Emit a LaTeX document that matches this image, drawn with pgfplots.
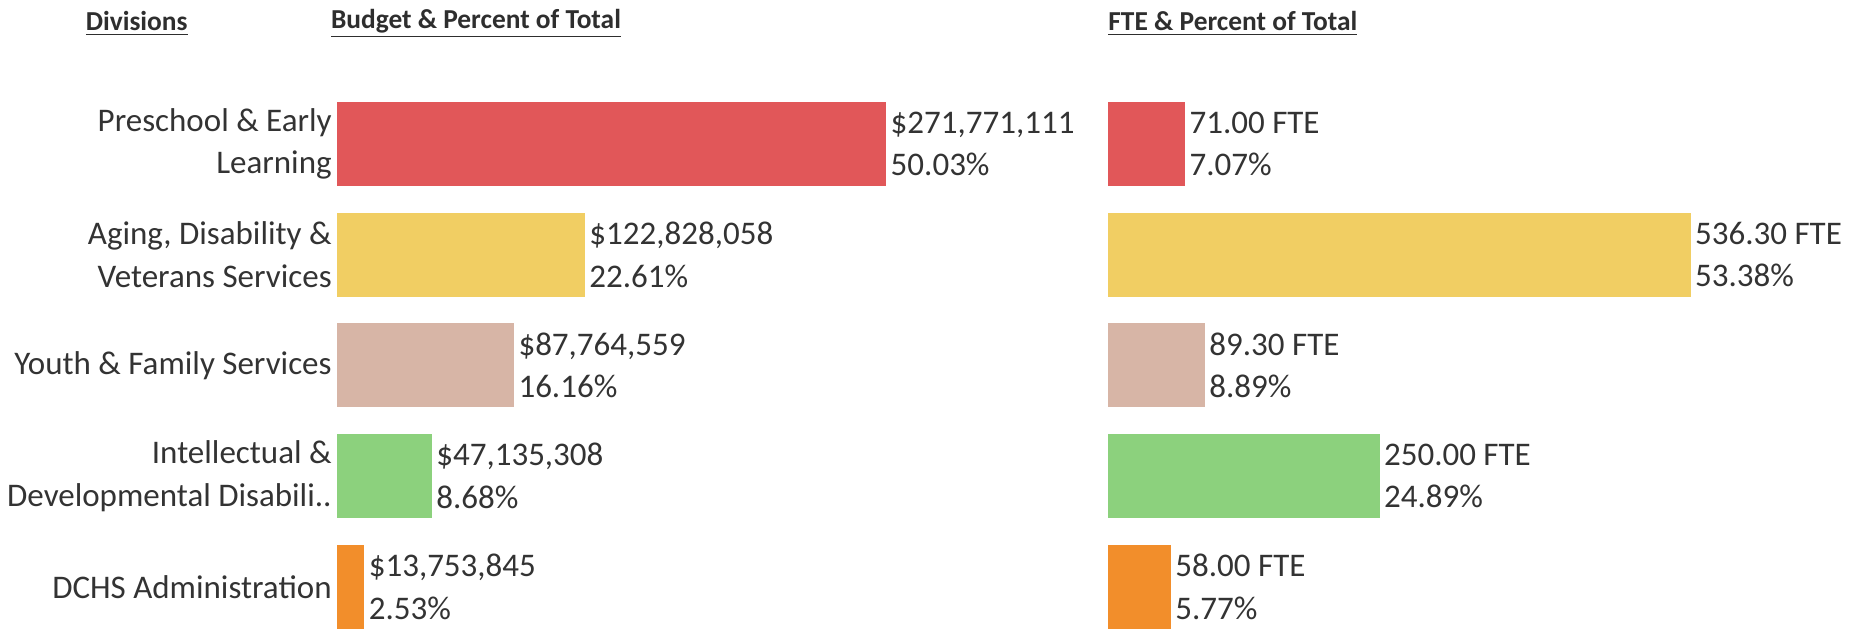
\documentclass[border=0pt]{standalone}
\usepackage{pgfplots}
\pgfplotsset{compat=1.18}
\usepackage{fontspec}
\setmainfont{Carlito}
\definecolor{cred}{HTML}{E15759}
\definecolor{cyel}{HTML}{F1CE63}
\definecolor{ctan}{HTML}{D7B5A6}
\definecolor{cgrn}{HTML}{8CD17D}
\definecolor{corg}{HTML}{F28E2B}
\definecolor{txt}{HTML}{333333}
\begin{document}
\begin{tikzpicture}
\useasboundingbox (0,0) rectangle (929pt,314.4pt);
\pgfplotsset{
  common/.style={
    xbar, scale only axis,
    x=#1, y=55.35pt,
    ymin=-0.38, ymax=5.30, xmin=0,
    bar width=42pt, bar shift=0pt,
    axis line style={draw=none}, tick style={draw=none},
    xtick=\empty, clip=false,
    every axis plot/.append style={draw=none},
    nodes near coords style={anchor=west, inner sep=2pt, align=left,
      font=\fontsize{16.5}{21.3}\selectfont, text=txt},
  }
}
\begin{axis}[common=1.0114pt, at={(168.3pt,0pt)}, anchor=south west, xmax=380,
  ytick={0,1,2,3,4},
  yticklabels={DCHS Administration, {Intellectual \&\\Developmental Disabili..}, Youth \& Family Services, {Aging, Disability \&\\Veterans Services}, {Preschool \& Early\\Learning}},
  yticklabel style={align=right, font=\fontsize{16.5}{21.3}\selectfont, text=txt, inner sep=0pt, xshift=2pt},
]
\addplot[fill=cred, nodes near coords={\textdollar271,771,111\\50.03\%}] coordinates {(271.771111,4)};
\addplot[fill=cyel, nodes near coords={\textdollar122,828,058\\22.61\%}] coordinates {(122.828058,3)};
\addplot[fill=ctan, nodes near coords={\textdollar87,764,559\\16.16\%}] coordinates {(87.764559,2)};
\addplot[fill=cgrn, nodes near coords={\textdollar47,135,308\\8.68\%}] coordinates {(47.135308,1)};
\addplot[fill=corg, nodes near coords={\textdollar13,753,845\\2.53\%}] coordinates {(13.753845,0)};
\end{axis}
\begin{axis}[common=0.5433pt, at={(554pt,0pt)}, anchor=south west, xmax=690,
  ytick=\empty,
]
\addplot[fill=cred, nodes near coords={71.00 FTE\\7.07\%}] coordinates {(71.00,4)};
\addplot[fill=cyel, nodes near coords={536.30 FTE\\53.38\%}] coordinates {(536.30,3)};
\addplot[fill=ctan, nodes near coords={89.30 FTE\\8.89\%}] coordinates {(89.30,2)};
\addplot[fill=cgrn, nodes near coords={250.00 FTE\\24.89\%}] coordinates {(250.00,1)};
\addplot[fill=corg, nodes near coords={58.00 FTE\\5.77\%}] coordinates {(58.00,0)};
\end{axis}
\begin{scope}[every node/.style={anchor=west, inner sep=0pt, text=txt!90!black, font=\fontsize{13.7}{15}\selectfont\bfseries}]
\node at (42.7pt,302.7pt) {\underline{Divisions}};
\node at (165.3pt,302.7pt) {\underline{Budget \& Percent of Total}};
\node at (554pt,302.7pt) {\underline{FTE \& Percent of Total}};
\end{scope}
\end{tikzpicture}
\end{document}
